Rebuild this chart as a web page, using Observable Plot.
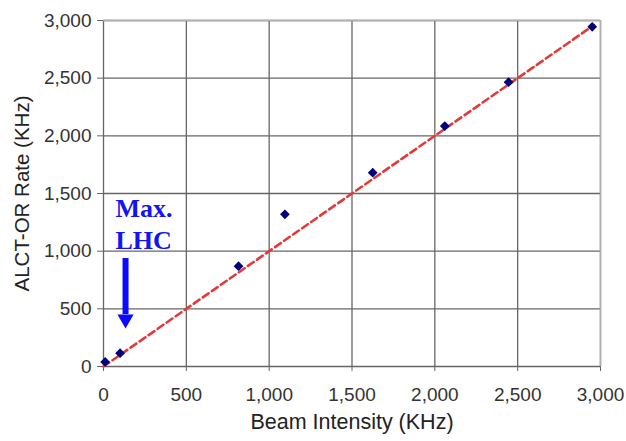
<!DOCTYPE html>
<html>
<head>
<meta charset="utf-8">
<script src="https://cdn.jsdelivr.net/npm/d3@7"></script>
<script src="https://cdn.jsdelivr.net/npm/@observablehq/plot@0.6"></script>
<style>
  html, body { margin: 0; padding: 0; background: #fff; }
  #chart svg { display: block; }
</style>
</head>
<body>
<div id="chart"></div>
<script>
// Measured data points
const beamIntensity = [10, 100, 815, 1095, 1625, 2060, 2445, 2950];
const alctRate      = [40, 115, 870, 1320, 1680, 2085, 2465, 2945];

// Reference line (rate = intensity)
const fitX = [0, 2960];
const fitY = [0, 2960];

// Tick values
const xTicks = [0, 500, 1000, 1500, 2000, 2500, 3000];
const yTicks = [0, 500, 1000, 1500, 2000, 2500, 3000];

// Axis titles
const xTitle = ["Beam Intensity (KHz)"];
const yTitle = ["ALCT-OR Rate (KHz)"];

// Annotation
const noteLines = ["Max.", "LHC"];
const noteY = [1292, 1023];
const noteX = [72, 72];
const arrowX = [133];
const arrowTop = [936];
const arrowShaftEnd = [450];
const arrowHeadY = [410];

const points = beamIntensity.map((x, i) => ({x, y: alctRate[i]}));
const fit = fitX.map((x, i) => ({x, y: fitY[i]}));
const notes = noteLines.map((t, i) => ({t, x: noteX[i], y: noteY[i]}));
const shaft = arrowX.map((x, i) => ({x, y1: arrowTop[i], y2: arrowShaftEnd[i]}));
const head = arrowX.map((x, i) => ({x, y: arrowHeadY[i]}));

const chart = Plot.plot({
  width: 626,
  height: 441,
  marginLeft: 103,
  marginRight: 26,
  marginTop: 20,
  marginBottom: 75,
  style: { fontFamily: "Liberation Sans, Arial, sans-serif", background: "#fff" },
  x: { domain: [0, 3000] },
  y: { domain: [0, 3000] },
  marks: [
    Plot.gridX(xTicks, { stroke: "#666", strokeOpacity: 1, strokeWidth: 1.3 }),
    Plot.gridY(yTicks, { stroke: "#666", strokeOpacity: 1, strokeWidth: 1.3 }),
    Plot.ruleX([3000], { stroke: "#b0b0b0", strokeWidth: 1.6 }),
    Plot.ruleY([3000], { stroke: "#b0b0b0", strokeWidth: 1.6 }),
    Plot.axisX({ ticks: xTicks, tickFormat: d3.format(","), tickSize: 5, tickPadding: 16,
                 fontSize: 19, label: null, stroke: "#666", color: "#333" }),
    Plot.axisY({ ticks: yTicks, tickFormat: d3.format(","), tickSize: 6, tickPadding: 6,
                 fontSize: 19, label: null, stroke: "#666", color: "#333" }),
    Plot.text(xTitle, { x: () => 1500, y: () => -486, fontSize: 21.5, fill: "#222" }),
    Plot.text(yTitle, { x: () => -489, y: () => 1500, rotate: -90, fontSize: 20.5, fill: "#222" }),
    Plot.line(fit, { x: "x", y: "y", stroke: "#e23a3a", strokeWidth: 2.6, strokeDasharray: "7,4" }),
    Plot.dot(points, { x: "x", y: "y", symbol: "diamond2", r: 4.4, fill: "#00007a", stroke: "none" }),
    Plot.ruleX(shaft, { x: "x", y1: "y1", y2: "y2", stroke: "#0a0aff", strokeWidth: 6 }),
    Plot.dot(head, { x: "x", y: "y", symbol: "triangle", r: 6, rotate: 180, fill: "#0a0aff", stroke: "none" }),
    Plot.text(notes, { x: "x", y: "y", text: "t", textAnchor: "start", lineAnchor: "bottom",
                       fontFamily: "Liberation Serif, Times New Roman, serif", fontWeight: "bold",
                       fontSize: 26, fill: "#1414ee" })
  ]
});
document.getElementById("chart").append(chart);
</script>
</body>
</html>
